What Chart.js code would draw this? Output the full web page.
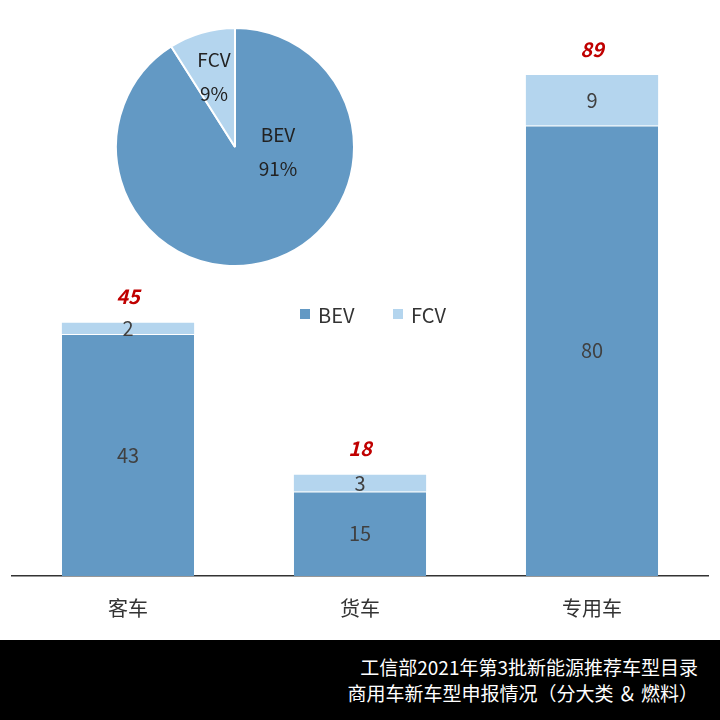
<!DOCTYPE html>
<html><head><meta charset="utf-8">
<script src="https://cdn.jsdelivr.net/npm/chart.js@4/dist/chart.umd.min.js"></script>
<style>
body{margin:0;width:720px;height:720px;background:#fff;position:relative;overflow:hidden;font-family:"Noto Sans CJK SC","Noto Sans",sans-serif}
#barWrap{position:absolute;left:0;top:0;width:720px;height:640px}
#pieWrap{position:absolute;left:115px;top:27px;width:240px;height:240px}
#footer{position:absolute;left:0;top:640px;width:720px;height:80px;background:#000;color:#fff;text-align:right;font-size:19px;line-height:26px;padding:14px 22px 0 0;box-sizing:border-box}
</style></head><body>
<div id="barWrap"><canvas id="bar"></canvas></div>
<div id="pieWrap"><canvas id="pie"></canvas></div>
<div id="footer">工信部2021年第3批新能源推荐车型目录<br>商用车新车型申报情况（分大类 ＆ 燃料）</div>
<script>
const categories = ['客车', '货车', '专用车'];
const bevValues = [43, 15, 80];
const fcvValues = [2, 3, 9];
const totals = [45, 18, 89];
const pieLabels = ['BEV', 'FCV'];
const pieShares = [91, 9];

const BEV = '#6399c4', FCV = '#b4d5ee';
const font = '"Noto Sans CJK SC","Noto Sans",sans-serif';

const barLabels = {
  id: 'barLabels',
  afterDatasetsDraw(chart) {
    const c = chart.ctx;
    c.save();
    c.textAlign = 'center'; c.textBaseline = 'middle';
    chart.data.datasets.forEach((ds, i) => {
      chart.getDatasetMeta(i).data.forEach((bar, j) => {
        c.fillStyle = '#404040';
        c.font = '20px ' + font;
        c.fillText(ds.data[j], bar.x, (bar.y + bar.base) / 2);
      });
    });
    const top = chart.getDatasetMeta(1).data;
    c.fillStyle = '#c00000';
    c.font = 'italic bold 20px ' + font;
    top.forEach((bar, j) => c.fillText(totals[j], bar.x, bar.y - 26));
    c.restore();
  }
};

new Chart(document.getElementById('bar'), {
  type: 'bar',
  data: {
    labels: categories,
    datasets: [
      { label: 'BEV', data: bevValues, backgroundColor: BEV, borderColor: '#fff', borderWidth: {top: 1}, borderSkipped: 'bottom', categoryPercentage: 1, barPercentage: 0.57 },
      { label: 'FCV', data: fcvValues, backgroundColor: FCV, borderColor: '#fff', borderWidth: 0, categoryPercentage: 1, barPercentage: 0.57 }
    ]
  },
  options: {
    responsive: true, maintainAspectRatio: false, animation: false,
    layout: { padding: { top: 13, left: 12, right: 12, bottom: 8 } },
    scales: {
      x: { stacked: true, grid: { display: false }, border: { color: '#333', width: 1.5 },
           ticks: { color: '#333', font: { size: 20, family: font }, padding: 12 } },
      y: { stacked: true, display: false, min: 0, max: 100 }
    },
    plugins: {
      legend: { display: false },
      tooltip: { enabled: false }
    }
  },
  plugins: [barLabels, {
    id: 'legendDraw',
    afterDraw(chart) {
      const c = chart.ctx;
      c.save();
      c.font = '20px ' + font; c.textBaseline = 'middle'; c.fillStyle = '#333';
      [[pieLabels[0], BEV, 300], [pieLabels[1], FCV, 393]].forEach(([t, col, x]) => {
        c.fillStyle = col; c.fillRect(x, 309, 10, 10);
        c.fillStyle = '#333'; c.fillText(t, x + 18, 315);
      });
      c.restore();
    }
  }]
});

new Chart(document.getElementById('pie'), {
  type: 'pie',
  data: { labels: pieLabels, datasets: [{ data: pieShares, backgroundColor: [BEV, FCV], borderColor: '#fff', borderWidth: 2 }] },
  options: {
    responsive: true, maintainAspectRatio: false, animation: false,
    plugins: { legend: { display: false }, tooltip: { enabled: false } }
  },
  plugins: [{
    id: 'pieLabels',
    afterDatasetsDraw(chart) {
      const c = chart.ctx;
      const arcs = chart.getDatasetMeta(0).data;
      const offs = [[43, 5], [-21, -70]];
      c.save();
      c.font = '19px ' + font; c.fillStyle = '#222'; c.textAlign = 'center'; c.textBaseline = 'middle';
      arcs.forEach((a, i) => {
        const x = a.x + offs[i][0], y = a.y + offs[i][1];
        c.fillText(pieLabels[i], x, y - 17);
        c.fillText(pieShares[i] + '%', x, y + 17);
      });
      c.restore();
    }
  }]
});
</script>
</body></html>
